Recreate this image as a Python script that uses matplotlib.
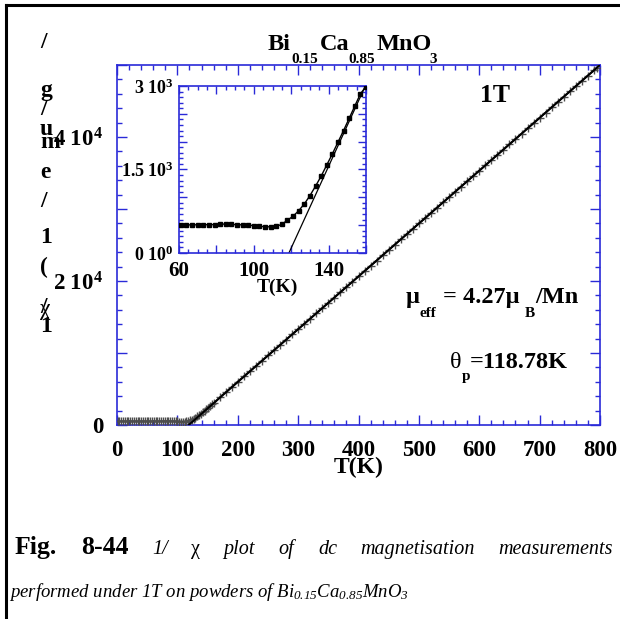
import matplotlib
matplotlib.use('Agg')
import matplotlib.pyplot as plt
from matplotlib.lines import Line2D
from matplotlib.ticker import FixedLocator, MultipleLocator, FixedFormatter

plt.rcParams['font.family'] = ['Liberation Serif', 'DejaVu Serif']
plt.rcParams['font.weight'] = 'bold'
plt.rcParams['mathtext.fontset'] = 'custom'
plt.rcParams['mathtext.rm'] = 'Liberation Serif:style=italic:weight=normal'
plt.rcParams['mathtext.bf'] = 'Liberation Serif:bold'
plt.rcParams['mathtext.it'] = 'Liberation Serif:style=italic:weight=normal'

# ---------------- data ----------------
T_low = [1, 4, 7, 10, 13, 16, 19, 22, 25, 28, 31, 34, 37, 40, 43, 46, 49, 52, 55, 58,
         61, 64, 67, 70, 73, 76, 79, 82, 85, 88, 91, 94, 97, 100, 103, 106, 109, 112,
         115, 118, 121, 124, 127, 130, 133, 136, 139, 142, 145, 148, 151, 154, 157, 160]
inv_chi_low = [500, 504, 498, 502, 500, 497, 503, 500, 505, 499, 502, 500, 498, 503,
               500, 502, 499, 501, 500, 500, 502, 505, 505, 507, 508, 509, 510, 515,
               522, 514, 509, 505, 500, 492, 480, 472, 470, 478, 515, 590, 660, 760,
               880, 1030, 1200, 1380, 1580, 1780, 1990, 2200, 2420, 2640, 2860, 2990]
T_high = [170, 180, 190, 200, 210, 220, 230, 240, 250, 260, 270, 280, 290, 300, 310,
          320, 330, 340, 350, 360, 370, 380, 390, 400, 410, 420, 430, 440, 450, 460,
          470, 480, 490, 500, 510, 520, 530, 540, 550, 560, 570, 580, 590, 600, 610,
          620, 630, 640, 650, 660, 670, 680, 690, 700, 710, 720, 730, 740, 750, 760,
          770, 780, 790, 795]
inv_chi_high = [3820, 4550, 5280, 6020, 6750, 7480, 8200, 8930, 9660, 10390, 11120,
                11850, 12580, 13310, 14040, 14775, 15500, 16240, 16960, 17700, 18450,
                19170, 19900, 20630, 21380, 22100, 22830, 23580, 24300, 25040, 25790,
                26500, 27240, 27990, 28700, 29440, 30190, 30910, 31640, 32390, 33120,
                33840, 34590, 35320, 36050, 36800, 37510, 38250, 39000, 39720, 40450,
                41200, 41920, 42650, 43400, 44120, 44870, 45590, 46320, 47070, 47790,
                48540, 49260, 49640]
theta_p = 118.78        # K, Curie-Weiss temperature
cw_slope = 73.4         # d(1/chi)/dT of the fit line
T_fit_end_main = 800
T_fit_end_inset = 160

main_xticks = [0, 100, 200, 300, 400, 500, 600, 700, 800]
main_yticks = [0, 10000, 20000, 30000, 40000, 50000]
main_ylabels = ['0', '', r'$\mathbf{2\ 10^{4}}$', '', r'$\mathbf{4\ 10^{4}}$', '']
inset_xticks = [60, 80, 100, 120, 140, 160]
inset_xlabels = ['60', '', '100', '', '140', '']
inset_yticks = [0, 500, 1000, 1500, 2000, 2500, 3000]
inset_ylabels = [r'$\mathbf{0\ 10^{0}}$', '', '', r'$\mathbf{1.5\ 10^{3}}$', '', '',
                 r'$\mathbf{3\ 10^{3}}$']

T_all = T_low + T_high
inv_all = inv_chi_low + inv_chi_high

# ---------------- figure ----------------
W, H = 620, 619
fig = plt.figure(figsize=(6.2, 6.19), dpi=100)
def fx(x): return x / W
def fy(y): return 1 - y / H

BLUE = '#2a2ad8'

ax = fig.add_axes([fx(117), fy(425), (600 - 117) / W, (425 - 65) / H])
ax.plot(T_all, inv_all, color='black', lw=1.3, zorder=2)
ax.plot(T_all, inv_all, ls='none', marker='+', ms=6, mew=1.0, color='0.3', zorder=3)
ax.plot([theta_p, T_fit_end_main],
        [0, cw_slope * (T_fit_end_main - theta_p)], color='black', lw=1.4, zorder=4)
ax.set_xlim(0, 800)
ax.set_ylim(0, 50000)
ax.xaxis.set_major_locator(FixedLocator(main_xticks))
ax.xaxis.set_minor_locator(MultipleLocator(20))
ax.yaxis.set_major_locator(FixedLocator(main_yticks))
ax.yaxis.set_major_formatter(FixedFormatter(main_ylabels))
ax.yaxis.set_minor_locator(MultipleLocator(2000))
ax.tick_params(which='both', direction='in', top=True, right=True, color=BLUE, width=1.0)
ax.tick_params(which='major', length=7)
ax.tick_params(which='minor', length=3.5)
ax.tick_params(axis='x', labelsize=16.5, pad=11)
ax.tick_params(axis='y', labelsize=16.5, pad=10)
for s in ax.spines.values():
    s.set_color(BLUE)
    s.set_linewidth(1.2)
ax.set_xlabel('T(K)', fontsize=17, fontweight='bold', labelpad=-3)

# ---------------- inset ----------------
axi = fig.add_axes([fx(179), fy(253), (366 - 179) / W, (253 - 86) / H])
axi.plot(T_low, inv_chi_low, color='black', lw=1.0, marker='s', ms=2.8, zorder=3)
axi.plot([theta_p, T_fit_end_inset],
         [0, cw_slope * (T_fit_end_inset - theta_p)], color='black', lw=0.9, zorder=2)
axi.set_xlim(60, 160)
axi.set_ylim(0, 3000)
axi.xaxis.set_major_locator(FixedLocator(inset_xticks))
axi.xaxis.set_major_formatter(FixedFormatter(inset_xlabels))
axi.xaxis.set_minor_locator(MultipleLocator(5))
axi.yaxis.set_major_locator(FixedLocator(inset_yticks))
axi.yaxis.set_major_formatter(FixedFormatter(inset_ylabels))
axi.yaxis.set_minor_locator(MultipleLocator(100))
axi.tick_params(which='both', direction='in', top=True, right=True, color=BLUE, width=1.0)
axi.tick_params(which='major', length=6)
axi.tick_params(which='minor', length=3)
axi.tick_params(axis='x', labelsize=15, pad=6)
axi.tick_params(axis='y', labelsize=13, pad=4)
for s in axi.spines.values():
    s.set_color(BLUE)
    s.set_linewidth(1.2)
fig.text(fx(277), fy(292), 'T(K)', fontsize=14, fontweight='bold', ha='center',
         va='baseline')

# ---------------- stacked y label ----------------
ylab_chars = ['/', 'g', '/', 'u', 'm', 'e', '/', '1', '(', '/', 'χ', '1']
ylab_base = [48, 96, 115, 135, 148, 178, 207, 243, 273, 313, 315, 332]
for ch, yb in zip(ylab_chars, ylab_base):
    w = 'normal' if ch == 'χ' else 'bold'
    fig.text(fx(40), fy(yb), ch, fontsize=17, fontweight=w, ha='left', va='baseline')

# ---------------- title ----------------
title_parts = [('Bi', 268, 50, 17.5), ('0.15', 291, 63, 11), ('Ca', 320, 50, 17.5),
               ('0.85', 348, 63, 11), ('MnO', 377, 50, 17.5), ('3', 429, 63, 11)]
for s, x, y, fs in title_parts:
    fig.text(fx(x), fy(y), s, fontsize=fs, fontweight='bold', ha='left', va='baseline')

# ---------------- annotations ----------------
fig.text(fx(480), fy(102), '1T', fontsize=18.5, fontweight='bold', va='baseline')
mu_parts = [('μ', 406, 303, 17.5), ('eff', 420, 317, 11), ('= 4.27μ', 443, 303, 17.5),
            ('B', 525, 317, 11), ('/Mn', 535, 303, 17.5)]
for s, x, y, fs in mu_parts:
    fig.text(fx(x), fy(y), s, fontsize=fs, fontweight='bold', va='baseline')
fig.text(fx(450), fy(368), 'θ', fontsize=17.5, fontweight='normal', va='baseline')
fig.text(fx(462), fy(380), 'p', fontsize=11, fontweight='bold', va='baseline')
fig.text(fx(470), fy(368), '=118.78K', fontsize=17.5, fontweight='bold', va='baseline')

# ---------------- page frame ----------------
fig.add_artist(Line2D([fx(6), fx(6)], [fy(5), 0], color='black', lw=2.2,
                      transform=fig.transFigure))
fig.add_artist(Line2D([fx(6), 1], [fy(5), fy(5)], color='black', lw=2.2,
                      transform=fig.transFigure))

# ---------------- caption (justified first line) ----------------
renderer = fig.canvas.get_renderer()
it = dict(fontsize=14.5, fontweight='normal', fontstyle='italic')
words = [('Fig.', dict(fontsize=18.5, fontweight='bold')),
         ('8-44', dict(fontsize=18.5, fontweight='bold')),
         ('1/', it), ('χ', dict(fontsize=14.5, fontweight='normal')),
         ('plot', it), ('of', it), ('dc', it), ('magnetisation', it),
         ('measurements', it)]
x_start, x_end, base1 = 15, 613, 554
objs = []
for s, kw in words:
    t = fig.text(0, fy(base1), s, va='baseline', ha='left', **kw)
    objs.append(t)
widths = [t.get_window_extent(renderer).width for t in objs]
gap = (x_end - x_start - sum(widths)) / (len(objs) - 1)
x = x_start
for t, wdt in zip(objs, widths):
    t.set_x(fx(x))
    x += wdt + gap

fig.text(fx(9), fy(597),
         r'performed under 1T on powders of $Bi_{0.15}Ca_{0.85}MnO_{3}$',
         fontsize=13.5, fontweight='normal', fontstyle='italic', va='baseline')

fig.savefig('out.png', dpi=100)
